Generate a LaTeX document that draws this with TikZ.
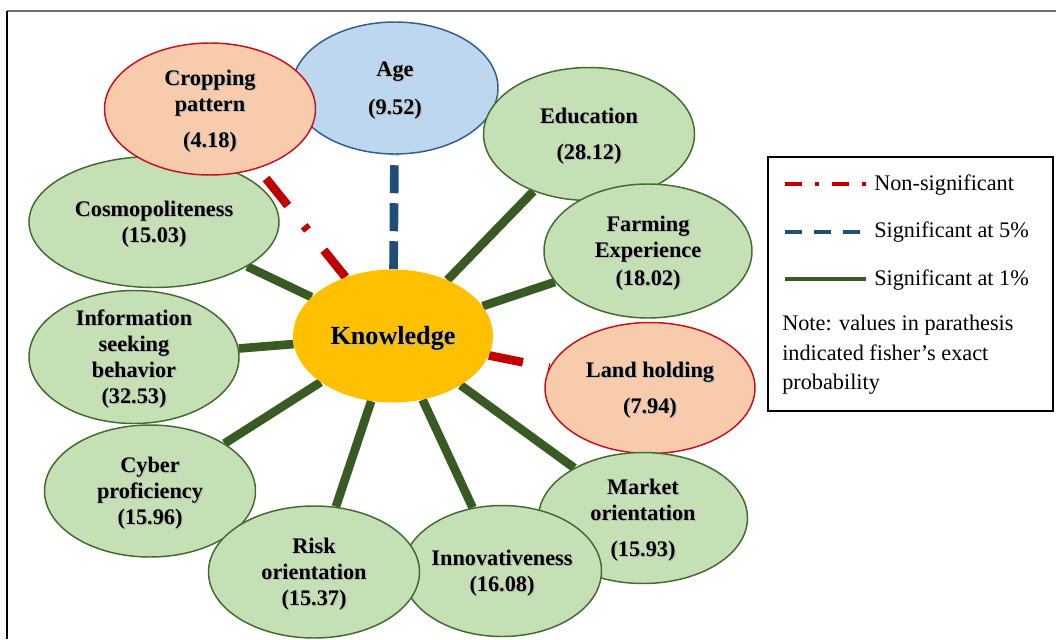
\documentclass[tikz,border=0pt]{standalone}
\usepackage{fontspec}
\setmainfont{Liberation Serif}
\usetikzlibrary{shapes.geometric}

\pgfdeclarelayer{links}
\pgfsetlayers{links,main}

\definecolor{ovalgreen}{HTML}{C5E0B4}
\definecolor{ovalgreenedge}{HTML}{426A2E}
\definecolor{linkgreen}{HTML}{3A5A24}
\definecolor{ovalpeach}{HTML}{F8CBAD}
\definecolor{ovalred}{HTML}{C8101A}
\definecolor{linkred}{HTML}{C00000}
\definecolor{ovalblue}{HTML}{BDD7EE}
\definecolor{ovalblueedge}{HTML}{2F5D8C}
\definecolor{linkblue}{HTML}{1F4E79}
\definecolor{knowfill}{HTML}{FFC000}
\definecolor{frametop}{HTML}{6E6E6E}

% bold label with a soft grey drop shadow
\newcommand\shtxt[1]{\makebox[0pt][l]{\kern0.9pt\raisebox{-0.9pt}{\textcolor{black!28}{#1}}}#1}
% invisible strut that lowers a label block a little inside its oval
\newcommand\padtop{\rule{0pt}{15.5pt}}

\begin{document}
\begin{tikzpicture}[x=0.75pt,y=-0.75pt,
  oval/.style={ellipse, inner sep=-20pt, line width=1.1pt, align=center,
    font=\fontsize{16.7}{19.5}\selectfont\bfseries},
  greenoval/.style={oval, draw=ovalgreenedge, fill=ovalgreen},
  peachoval/.style={oval, draw=ovalred, fill=ovalpeach},
  blueoval/.style={oval, draw=ovalblueedge, fill=ovalblue},
  coreoval/.style={ellipse, inner sep=-20pt, fill=knowfill,
    font=\fontsize{19.6}{24}\selectfont\bfseries},
  sig1/.style={draw=linkgreen, line width=6.5pt},
  sig5/.style={draw=linkblue, line width=6.5pt, dash pattern=on 21pt off 7.5pt},
  nonsig/.style={draw=linkred, line width=6.5pt,
    dash pattern=on 26pt off 19.5pt on 4pt off 19.5pt},
  legsig1/.style={draw=linkgreen, line width=3pt},
  legsig5/.style={draw=linkblue, line width=3pt, dash pattern=on 12.75pt off 9pt},
  legnonsig/.style={draw=linkred, line width=3pt,
    dash pattern=on 12.75pt off 9.75pt on 3pt off 9.75pt},
  legtext/.style={anchor=west, inner sep=0pt, font=\fontsize{16.7}{22.1}\selectfont},
  legendbox/.style={draw=black, line width=1.1pt, minimum width=213.75pt,
    minimum height=190.5pt, inner sep=0pt}
]
\useasboundingbox (0,0) rectangle (1056,639);

% frame
\coordinate (frameTL) at (7,11);
\coordinate (frameTR) at (1056,11);
\coordinate (frameBL) at (7,639);
\draw[frametop, line width=1.6pt] (frameTL) -- (frameTR);
\draw[black, line width=1.4pt] (frameTL) -- (frameBL);

% factor ovals
\node[greenoval, minimum width=187.5pt, minimum height=98.25pt] (cosmo) at (154,222)
  {\padtop\shtxt{Cosmopoliteness}\\\shtxt{(15.03)}};
\node[blueoval, minimum width=154.5pt, minimum height=99pt] (age) at (395,88)
  {\padtop\shtxt{Age}\\[9pt]\shtxt{(9.52)}};
\node[peachoval, minimum width=158.25pt, minimum height=99pt] (crop) at (210,109)
  {\padtop\shtxt{Cropping}\\\shtxt{pattern}\\[8pt]\shtxt{(4.18)}};
\node[greenoval, minimum width=158.25pt, minimum height=99.75pt] (edu) at (589,134)
  {\padtop\shtxt{Education}\\[7.5pt]\shtxt{(28.12)}};
\node[greenoval, minimum width=156pt, minimum height=100.5pt] (farm) at (648,251)
  {\padtop\shtxt{Farming}\\\shtxt{Experience}\\[1pt]\shtxt{(18.02)}};
\node[peachoval, minimum width=157.5pt, minimum height=98.25pt] (land) at (650,388)
  {\padtop\shtxt{Land holding}\\[7.5pt]\shtxt{(7.94)}};
\node[greenoval, minimum width=156.75pt, minimum height=98.25pt] (market) at (643,518)
  {\padtop\shtxt{Market}\\\shtxt{orientation}\\[7pt]\shtxt{(15.93)}};
\node[greenoval, minimum width=149.25pt, minimum height=98.25pt] (innov) at (502,571)
  {\padtop\shtxt{Innovativeness}\\\shtxt{(16.08)}};
\node[greenoval, minimum width=157.5pt, minimum height=99.75pt] (info) at (134,357)
  {\padtop\shtxt{Information}\\\shtxt{seeking}\\\shtxt{behavior}\\\shtxt{(32.53)}};
\node[greenoval, minimum width=158.25pt, minimum height=99pt] (cyber) at (150,491)
  {\padtop\shtxt{Cyber}\\\shtxt{proficiency}\\\shtxt{(15.96)}};
\node[greenoval, minimum width=158.25pt, minimum height=99pt] (risk) at (314,572)
  {\padtop\shtxt{Risk}\\\shtxt{orientation}\\\shtxt{(15.37)}};

% central oval
\node[coreoval, minimum width=150pt, minimum height=99.75pt] (know) at (393,336)
  {\rule{0pt}{18pt}\shtxt{Knowledge}};

% links from the central oval
\begin{pgfonlayer}{links}
  \draw[sig5] (know) -- (age);
  \draw[nonsig] (know) -- (crop);
  \draw[nonsig] (know) -- (land);
  \draw[sig1] (know) -- (cosmo);
  \draw[sig1] (know) -- (edu);
  \draw[sig1] (know) -- (farm);
  \draw[sig1] (know) -- (market);
  \draw[sig1] (know) -- (innov);
  \draw[sig1] (know) -- (risk);
  \draw[sig1] (know) -- (cyber);
  \draw[sig1] (know) -- (info);
\end{pgfonlayer}

% legend
\node[legendbox] (legend) at (910.5,284) {};
\coordinate (ns1) at (785,184);
\coordinate (ns2) at (866,184);
\coordinate (s5a) at (785,232);
\coordinate (s5b) at (862,232);
\coordinate (s1a) at (785,279);
\coordinate (s1b) at (866,279);
\draw[legnonsig] (ns1) -- (ns2);
\draw[legsig5] (s5a) -- (s5b);
\draw[legsig1] (s1a) -- (s1b);
\node[legtext] (lns) at (874,185) {Non-significant};
\node[legtext] (ls5) at (874,232) {Significant at 5\%};
\node[legtext] (ls1) at (874,280) {Significant at 1\%};
\node[legtext, anchor=north west, align=left] (note) at (782,315)
  {Note: values in parathesis\\indicated fisher’s exact\\probability};
\end{tikzpicture}
\end{document}
